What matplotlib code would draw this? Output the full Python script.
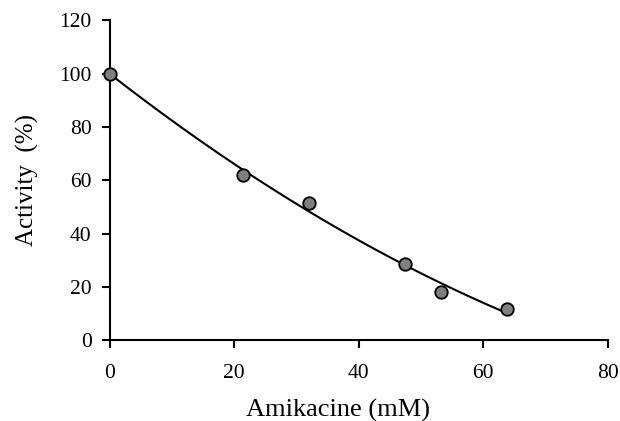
import numpy as np
import matplotlib
matplotlib.use("Agg")
import matplotlib.pyplot as plt

plt.rcParams['font.family'] = ['Liberation Serif', 'DejaVu Serif']

conc = [0, 21.4, 32.0, 47.5, 53.2, 63.8]
activity = [100, 62, 51.5, 28.4, 18.2, 11.6]
xticks = [0, 20, 40, 60, 80]
yticks = [0, 20, 40, 60, 80, 100, 120]

fig = plt.figure(figsize=(6.2, 4.21), dpi=100)
ax = fig.add_axes([0.177, 0.192, 0.803, 0.76])

coef = np.polyfit(conc, activity, 2)
xs = np.linspace(min(conc), max(conc), 200)
ax.plot(xs, np.polyval(coef, xs), color='black', lw=1.5, zorder=2)
ax.plot(conc, activity, 'o', ms=9, mfc='#7f7f7f', mec='black', mew=1.3, zorder=3, clip_on=False)

ax.set_xlim(0, 80)
ax.set_ylim(0, 120)
ax.set_xticks(xticks)
ax.set_yticks(yticks)
for s in ['top', 'right']:
    ax.spines[s].set_visible(False)
for s in ['left', 'bottom']:
    ax.spines[s].set_linewidth(1.5)
ax.tick_params(direction='out', length=6, width=1.5, labelsize=15.5)
ax.tick_params(axis='x', pad=11)
ax.tick_params(axis='y', pad=7)
ax.set_xlabel('Amikacine (mM)', fontsize=19)
ax.xaxis.set_label_coords(0.458, -0.183)
ax.set_ylabel('Activity  (%)', fontsize=18)
ax.yaxis.set_label_coords(-0.143, 0.5)

fig.savefig('out.png', dpi=100)
